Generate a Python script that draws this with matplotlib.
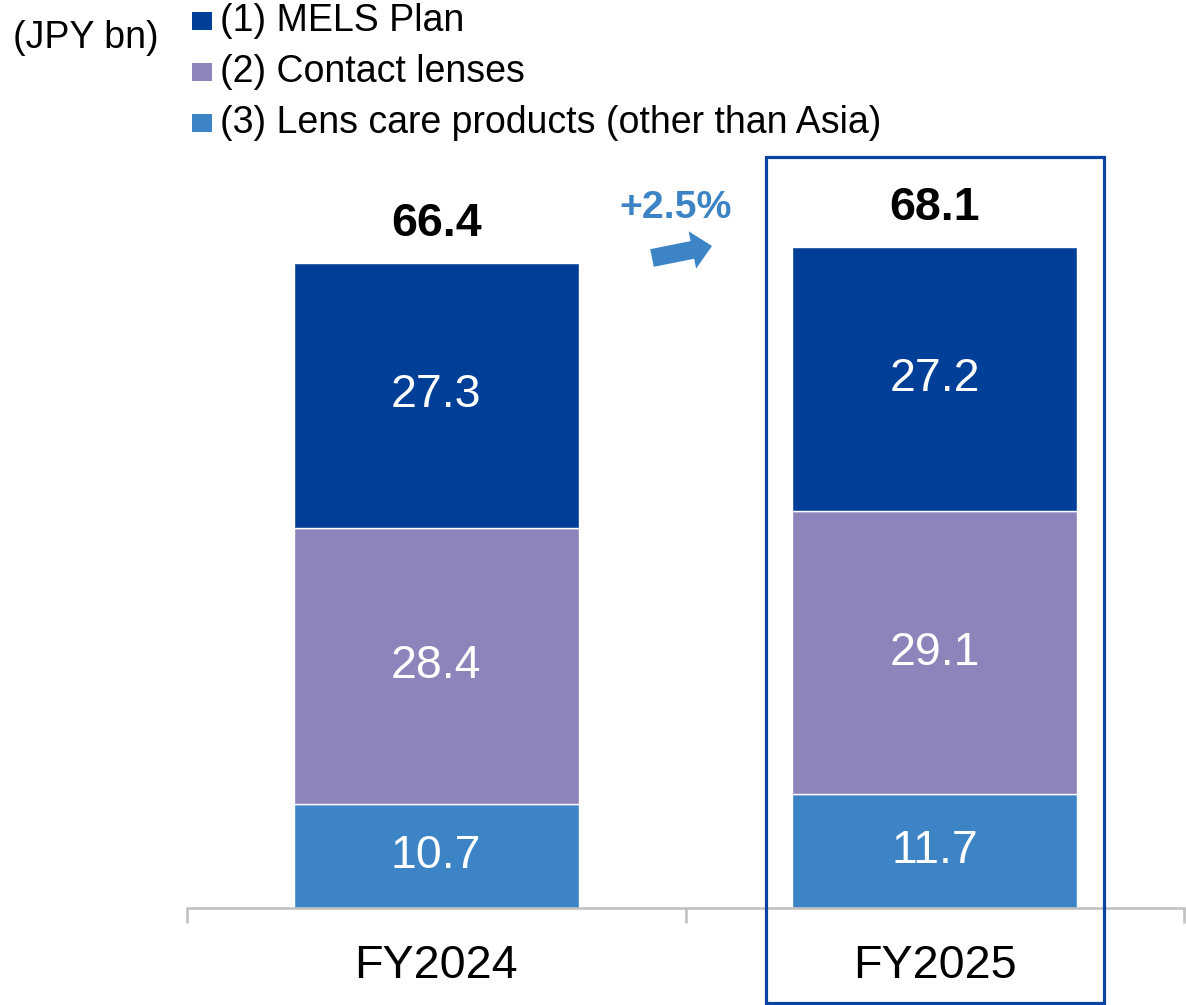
import matplotlib
matplotlib.use("Agg")
import matplotlib.pyplot as plt
from matplotlib.patches import Rectangle, FancyArrow
from matplotlib.transforms import IdentityTransform
import numpy as np

plt.rcParams['font.family'] = ['Liberation Sans', 'DejaVu Sans']

categories = ["FY2024", "FY2025"]
series_names = ["(1) MELS Plan", "(2) Contact lenses", "(3) Lens care products (other than Asia)"]
lens_care = [10.7, 11.7]
contact_lenses = [28.4, 29.1]
mels_plan = [27.3, 27.2]
totals = [66.4, 68.1]
growth_label = "+2.5%"
unit_label = "(JPY bn)"

colors = {"mels": "#003F98", "contact": "#8F83BC", "care": "#3D84C6"}
box_color = "#0B44A0"
axis_gray = "#BFBFBF"

W, H = 1186, 1005
fig = plt.figure(figsize=(W / 100, H / 100), dpi=100)

# axes placement in pixels
x0, x1 = 187, 1184
y_base = 908
px_per_unit = 9.72
ax_top = 140
ax = fig.add_axes([x0 / W, (H - y_base) / H, (x1 - x0) / W, (y_base - ax_top) / H])
ax.set_xlim(-0.5, 1.5)
ax.set_ylim(0, (y_base - ax_top) / px_per_unit)

x = np.arange(len(categories))
bw = 0.572
stack = [(lens_care, colors["care"]), (contact_lenses, colors["contact"]), (mels_plan, colors["mels"])]
bottom = np.zeros(len(categories))
for vals, col in stack:
    vals = np.array(vals)
    ax.bar(x, vals, bw, bottom=bottom, color=col, edgecolor="white", linewidth=1.0, zorder=2)
    for xi, b, v in zip(x, bottom, vals):
        ax.text(xi, b + v / 2, f"{v:.1f}", ha="center", va="center", color="white", fontsize=33.5, zorder=3)
    bottom = bottom + vals

for xi, t in zip(x, totals):
    ax.annotate(f"{t:.1f}", (xi, t), xytext=(0, 19), textcoords="offset points",
                ha="center", va="baseline", fontsize=33.5, fontweight="bold", color="black")

# axis styling
for s in ["left", "right", "top"]:
    ax.spines[s].set_visible(False)
ax.spines["bottom"].set_color(axis_gray)
ax.spines["bottom"].set_linewidth(1.8)
ax.set_yticks([])
ax.set_xticks(x)
ax.set_xticklabels(categories, fontsize=33.6)
ax.tick_params(axis="x", which="major", length=0, pad=26)
ax.set_xticks([-0.5, 0.5, 1.5], minor=True)
ax.tick_params(axis="x", which="minor", length=11, width=1.8, color=axis_gray)

# highlight box around FY2025 (figure pixel coords)
fig.patches.append(Rectangle((766, H - 1003), 1104 - 766, 1003 - 157, fill=False,
                             edgecolor=box_color, linewidth=2.3, transform=IdentityTransform(),
                             figure=fig))

# growth arrow and label
fig.patches.append(FancyArrow(652, H - 258, 60, 12, width=18, head_width=38, head_length=20,
                              length_includes_head=True, color=colors["care"], linewidth=0,
                              transform=IdentityTransform(), figure=fig))
fig.text(676 / W, 1 - 208 / H, growth_label, ha="center", va="center", fontsize=28.3,
         fontweight="bold", color=colors["care"])

# unit label and legend
fig.text(13 / W, 1 - 38 / H, unit_label, ha="left", va="center", fontsize=27)
legend_cols = [colors["mels"], colors["contact"], colors["care"]]
row_y = [21, 72, 123]
for name, col, ry in zip(series_names, legend_cols, row_y):
    fig.patches.append(Rectangle((192, H - ry - 9), 20, 18, facecolor=col, edgecolor="none",
                                 transform=IdentityTransform(), figure=fig))
    fig.text(220 / W, 1 - ry / H, name, ha="left", va="center", fontsize=27)

fig.savefig("out.png", dpi=100)
